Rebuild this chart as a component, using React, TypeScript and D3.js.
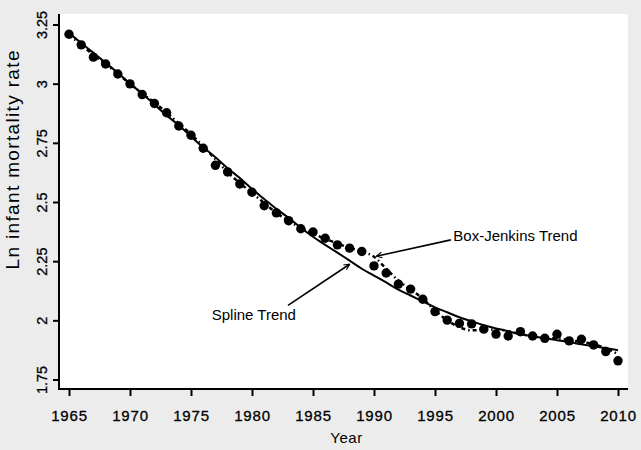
import React, { useEffect, useRef } from "react";
import * as d3 from "d3";

// years 1965..2010
const years = d3.range(1965, 2011);

// observed ln infant mortality rate
const observed = [
  3.209, 3.164, 3.112, 3.083, 3.041, 2.999, 2.954, 2.916, 2.877, 2.821,
  2.782, 2.727, 2.655, 2.627, 2.576, 2.541, 2.484, 2.454, 2.421, 2.387,
  2.373, 2.347, 2.319, 2.305, 2.291, 2.23, 2.2, 2.153, 2.132, 2.089,
  2.037, 2.001, 1.987, 1.985, 1.963, 1.942, 1.934, 1.952, 1.934, 1.924,
  1.941, 1.913, 1.92, 1.896, 1.868, 1.829,
];

// spline trend (solid)
const splineTrend = [
  3.214, 3.172, 3.13, 3.088, 3.046, 3.0, 2.958, 2.912, 2.866, 2.824,
  2.777, 2.731, 2.689, 2.643, 2.601, 2.555, 2.513, 2.471, 2.433, 2.391,
  2.353, 2.319, 2.286, 2.252, 2.218, 2.189, 2.16, 2.13, 2.105, 2.08,
  2.055, 2.034, 2.013, 1.996, 1.979, 1.966, 1.954, 1.941, 1.933, 1.924,
  1.916, 1.908, 1.899, 1.891, 1.882, 1.874,
];

// box-jenkins trend (dotted)
const bjTrend = [
  3.206, 3.164, 3.122, 3.084, 3.042, 3.0, 2.958, 2.92, 2.878, 2.832,
  2.786, 2.735, 2.681, 2.626, 2.58, 2.538, 2.496, 2.454, 2.42, 2.391,
  2.366, 2.345, 2.324, 2.307, 2.29, 2.269, 2.218, 2.168, 2.13, 2.092,
  2.042, 2.0, 1.971, 1.958, 1.958, 1.962, 1.954, 1.941, 1.933, 1.924,
  1.924, 1.916, 1.908, 1.899, 1.882, 1.857,
];

const xTicks = [1965, 1970, 1975, 1980, 1985, 1990, 1995, 2000, 2005, 2010];
const yTicks = [1.75, 2, 2.25, 2.5, 2.75, 3, 3.25];

// annotations: text position and arrow tail/tip in data units
const notes = [
  { text: "Box-Jenkins Trend", tx: 1996.5, ty: 2.336, x1: 1996.3, y1: 2.34, x2: 1990.2, y2: 2.271 },
  { text: "Spline Trend", tx: 1976.7, ty: 2.0, x1: 1982.95, y1: 2.063, x2: 1988.0, y2: 2.237 },
];

const App = () => {
  const ref = useRef<SVGSVGElement>(null);

  useEffect(() => {
    const width = 641;
    const height = 450;
    const plot = { left: 59, right: 628, top: 14, bottom: 389 };
    const font = "'Liberation Sans', Arial, Helvetica, sans-serif";

    const svg = d3.select(ref.current);
    svg.selectAll("*").remove();
    svg.attr("width", width).attr("height", height);

    svg.append("rect").attr("width", width).attr("height", height).attr("fill", "#ececec");
    svg
      .append("rect")
      .attr("x", plot.left)
      .attr("y", plot.top)
      .attr("width", plot.right - plot.left)
      .attr("height", plot.bottom - plot.top)
      .attr("fill", "#fff");

    const x = d3.scaleLinear().domain([1965, 2010]).range([69, 618]);
    const y = d3.scaleLinear().domain([1.75, 3.25]).range([379.5, 24.5]);

    // axes
    const xAxis = svg
      .append("g")
      .attr("transform", `translate(0, ${plot.bottom})`)
      .call(d3.axisBottom(x).tickValues(xTicks).tickFormat(d3.format("d")).tickSize(7).tickPadding(14).tickSizeOuter(0));
    xAxis.select(".domain").remove();
    xAxis.selectAll("line").attr("stroke", "#000").attr("stroke-width", 2);
    xAxis
      .selectAll("text")
      .attr("font-family", font)
      .attr("font-size", 15)
      .attr("letter-spacing", 0.8)
      .attr("fill", "#000")
      .attr("stroke", "#000")
      .attr("stroke-width", 0.3);

    const yAxis = svg
      .append("g")
      .attr("transform", `translate(${plot.left}, 0)`)
      .call(d3.axisLeft(y).tickValues(yTicks).tickFormat((d) => String(d)).tickSize(6).tickPadding(0).tickSizeOuter(0));
    yAxis.select(".domain").remove();
    yAxis.selectAll("line").attr("stroke", "#000").attr("stroke-width", 2);
    yAxis
      .selectAll("text")
      .attr("font-family", font)
      .attr("font-size", 14.5)
      .attr("fill", "#000")
      .attr("stroke", "#000")
      .attr("stroke-width", 0.3)
      .attr("x", null)
      .attr("dy", null)
      .attr("text-anchor", "middle")
      .attr("transform", "translate(-12, 0) rotate(-90)");

    svg
      .append("path")
      .attr("d", `M${plot.left},${plot.top}V${plot.bottom}H${plot.right}`)
      .attr("fill", "none")
      .attr("stroke", "#000")
      .attr("stroke-width", 2);

    // titles
    svg
      .append("text")
      .attr("transform", `translate(19, 160) rotate(-90)`)
      .attr("text-anchor", "middle")
      .attr("font-family", font)
      .attr("font-size", 19)
      .attr("textLength", 219)
      .attr("lengthAdjust", "spacing")
      .text("Ln infant mortality rate");

    svg
      .append("text")
      .attr("x", (plot.left + plot.right) / 2 + 3)
      .attr("y", 443)
      .attr("text-anchor", "middle")
      .attr("font-family", font)
      .attr("font-size", 15)
      .attr("letter-spacing", 0.5)
      .text("Year");

    // spline trend
    const spline = d3
      .line<number>()
      .x((d, i) => x(years[i]))
      .y((d) => y(d))
      .curve(d3.curveMonotoneX);

    svg
      .append("path")
      .datum(splineTrend)
      .attr("fill", "none")
      .attr("stroke", "#000")
      .attr("stroke-width", 2)
      .attr("d", spline);

    // box-jenkins trend
    svg
      .append("path")
      .datum(bjTrend)
      .attr("fill", "none")
      .attr("stroke", "#000")
      .attr("stroke-width", 2.5)
      .attr("stroke-dasharray", "4 3 1.5 3")
      .attr("d", spline);

    // observed dots
    svg
      .append("g")
      .selectAll("circle")
      .data(observed)
      .enter()
      .append("circle")
      .attr("cx", (d, i) => x(years[i]))
      .attr("cy", (d) => y(d))
      .attr("r", 4.7)
      .attr("fill", "#000");

    // annotations
    const defs = svg.append("defs");
    defs
      .append("marker")
      .attr("id", "arrowhead")
      .attr("viewBox", "0 0 10 10")
      .attr("refX", 9)
      .attr("refY", 5)
      .attr("markerWidth", 7)
      .attr("markerHeight", 7)
      .attr("markerUnits", "userSpaceOnUse")
      .attr("orient", "auto")
      .append("path")
      .attr("d", "M1,1L9,5L1,9")
      .attr("fill", "none")
      .attr("stroke", "#000")
      .attr("stroke-width", 1.6);

    const note = svg.append("g").selectAll("g").data(notes).enter().append("g");
    note
      .append("line")
      .attr("x1", (d) => x(d.x1))
      .attr("y1", (d) => y(d.y1))
      .attr("x2", (d) => x(d.x2))
      .attr("y2", (d) => y(d.y2))
      .attr("stroke", "#000")
      .attr("stroke-width", 1.6)
      .attr("marker-end", "url(#arrowhead)");
    note
      .append("text")
      .attr("x", (d) => x(d.tx))
      .attr("y", (d) => y(d.ty))
      .attr("font-family", font)
      .attr("font-size", 15)
      .text((d) => d.text);
  }, []);

  return <svg ref={ref} style={{ position: "absolute", left: 0, top: 0 }}></svg>;
};

export default App;
